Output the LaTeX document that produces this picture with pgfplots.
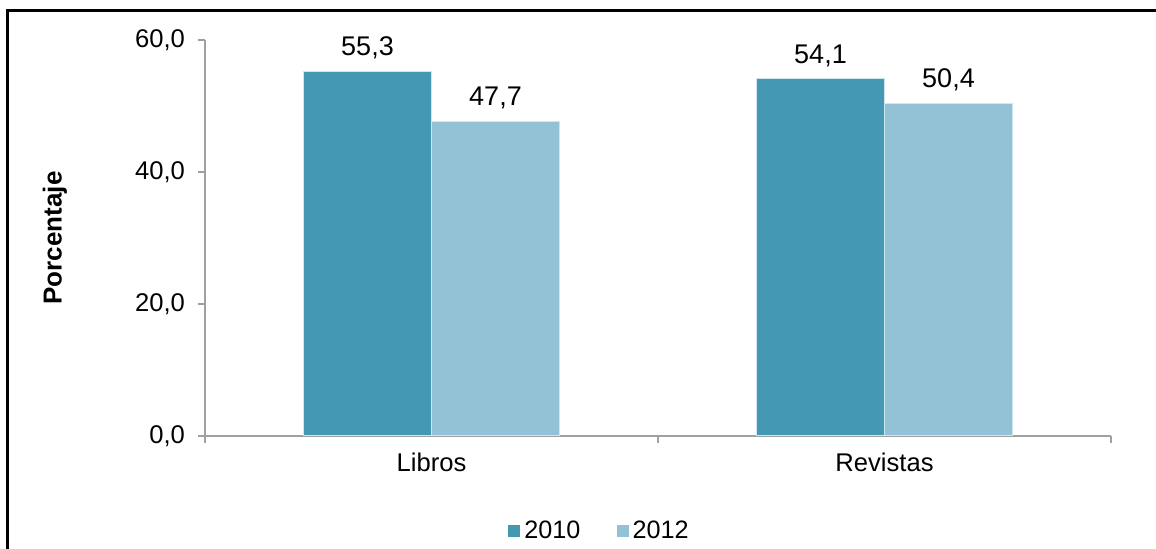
\documentclass[border=0pt]{standalone}
\usepackage{fontspec}
\setmainfont{Liberation Sans}
\usepackage{pgfplots}
\pgfplotsset{compat=1.18}
\definecolor{cA}{RGB}{68,152,177}
\definecolor{cB}{RGB}{147,194,214}
\definecolor{axgray}{RGB}{160,160,160}
\definecolor{edgec}{RGB}{205,232,242}
\begin{document}
\begin{tikzpicture}
\useasboundingbox (0,0) rectangle (578pt,274.5pt);
\draw[line width=1.5pt] (3.5pt,0pt) -- (3.5pt,269pt) -- (578pt,269pt);
\begin{axis}[
  at={(102.5pt,56.5pt)}, anchor=origin,
  scale only axis,
  width=453pt, height=198pt,
  xmin=0, xmax=2, ymin=0, ymax=60,
  ybar=0pt, bar width=64pt,
  axis x line=bottom, axis y line=left,
  axis line style={-, draw=axgray, line width=0.9pt},
  tick style={draw=axgray, line width=0.9pt},
  tick align=outside,
  major tick length=3.5pt,
  xtick={0,1,2}, xticklabels={},
  extra x ticks={0.5,1.5},
  extra x tick labels={Libros,Revistas},
  extra x tick style={major tick length=0pt, xticklabel style={yshift=-5pt}},
  ytick={0,20,40,60},
  /pgf/number format/.cd, use comma, fixed, fixed zerofill, precision=1, assume math mode=true,
  /pgfplots/.cd,
  ticklabel style={font=\fontsize{12.8}{15}\selectfont, text=black},
  yticklabel style={xshift=-3pt},
  ylabel={Porcentaje},
  ylabel style={at={(axis description cs:-0.1656,0.5)}, anchor=center, font=\fontsize{13}{15}\selectfont\bfseries},
  nodes near coords,
  every node near coord/.append style={font=\fontsize{13.5}{15}\selectfont, anchor=south, yshift=2.5pt, text=black},
  legend style={at={(axis cs:0.669,-14.4)}, anchor=west, draw=none, fill=none, inner sep=0pt,
    font=\fontsize{12.6}{15}\selectfont,
    /tikz/every even column/.append style={column sep=16pt}},
  legend columns=2,
  legend image code/.code={\fill[#1, draw=none] (0pt,-3pt) rectangle (6pt,3pt);},
]
\addplot[fill=cA, draw=edgec, line width=0.5pt] coordinates {(0.5,55.3) (1.5,54.1)};
\addplot[fill=cB, draw=edgec, line width=0.5pt] coordinates {(0.5,47.7) (1.5,50.4)};
\legend{2010,2012}
\end{axis}
\end{tikzpicture}
\end{document}
